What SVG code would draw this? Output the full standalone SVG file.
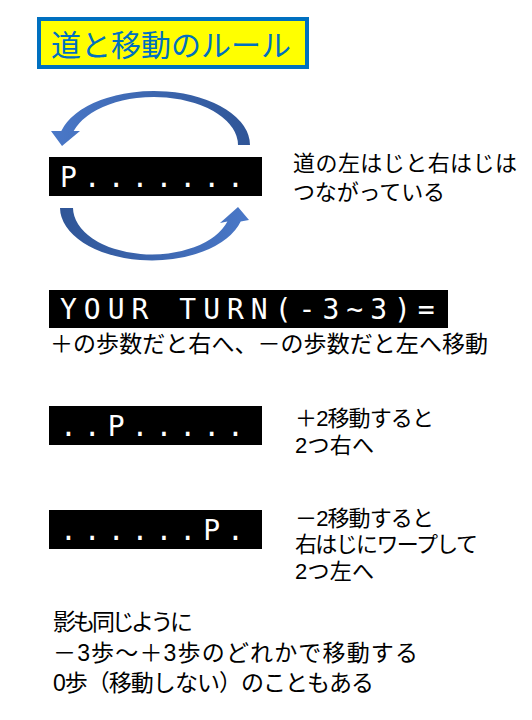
<svg xmlns="http://www.w3.org/2000/svg" width="532" height="720" viewBox="0 0 532 720">
<style>
.jp{font-family:"Liberation Sans","Noto Sans CJK JP",sans-serif;fill:#000;font-size:22px}
.lcd{font-family:"DejaVu Sans Mono",monospace;font-size:28px;fill:#fff;letter-spacing:7px}
.bar{fill:#000}
</style>
<defs>
<linearGradient id="gTop" x1="0" y1="0" x2="1" y2="0"><stop offset="0" stop-color="#4A78C8"/><stop offset="1" stop-color="#2F5597"/></linearGradient>
<linearGradient id="gBot" x1="0" y1="0" x2="1" y2="0"><stop offset="0" stop-color="#2F5597"/><stop offset="1" stop-color="#4A78C8"/></linearGradient>
</defs>
<rect width="532" height="720" fill="#fff"/>
<g id="title">
<rect x="39" y="19" width="268" height="48" fill="#FFFF00" stroke="#0070C0" stroke-width="4"/>
<text x="51" y="56" style="font-family:'Liberation Sans','Noto Sans CJK JP',sans-serif;font-size:30px;fill:#0070C0">道と移動のルール</text>
</g>
<g id="connectors">
<path d="M250,145 A96,54 0 0 0 61.3,131 L51,131 L62,146 L80,131 L73.7,131 A84,48 0 0 1 238,145 Z" fill="url(#gTop)"/>
<path d="M60,208 A92,53 0 0 0 240.7,221.5 L249,220 L238,207 L220,223 L227.4,221.5 A79,47 0 0 1 73,208 Z" fill="url(#gBot)"/>
</g>
<g id="road">
<rect class="bar" x="49" y="157" width="213" height="39"/>
<text class="lcd" x="60" y="187">P.......</text>
</g>
<g id="note-wrap">
<text class="jp" x="293" y="171" textLength="224">道の左はじと右はじは</text>
<text class="jp" x="293" y="200" textLength="152">つながっている</text>
</g>
<g id="prompt">
<rect class="bar" x="49" y="290" width="399" height="38"/>
<text class="lcd" x="60" y="319">YOUR TURN(-3~3)=</text>
</g>
<g id="note-sign">
<text class="jp" x="50" y="352" style="font-size:23px" textLength="438">＋の歩数だと右へ、－の歩数だと左へ移動</text>
</g>
<g id="road-plus2">
<rect class="bar" x="49" y="406" width="213" height="39"/>
<text class="lcd" x="60" y="436">..P.....</text>
</g>
<g id="note-plus2">
<text class="jp" x="295" y="426" textLength="139">＋2移動すると</text>
<text class="jp" x="295" y="453" textLength="79">2つ右へ</text>
</g>
<g id="road-minus2">
<rect class="bar" x="49" y="510" width="213" height="39"/>
<text class="lcd" x="60" y="540">......P.</text>
</g>
<g id="note-minus2">
<text class="jp" x="295" y="526" textLength="139">－2移動すると</text>
<text class="jp" x="295" y="552" textLength="183">右はじにワープして</text>
<text class="jp" x="295" y="579" textLength="79">2つ左へ</text>
</g>
<g id="note-shadow">
<text class="jp" x="53" y="630" style="font-size:23px" textLength="140">影も同じように</text>
<text class="jp" x="53" y="661" style="font-size:23px" textLength="365">－3歩～＋3歩のどれかで移動する</text>
<text class="jp" x="53" y="691" style="font-size:23px" textLength="321">0歩（移動しない）のこともある</text>
</g>
</svg>
